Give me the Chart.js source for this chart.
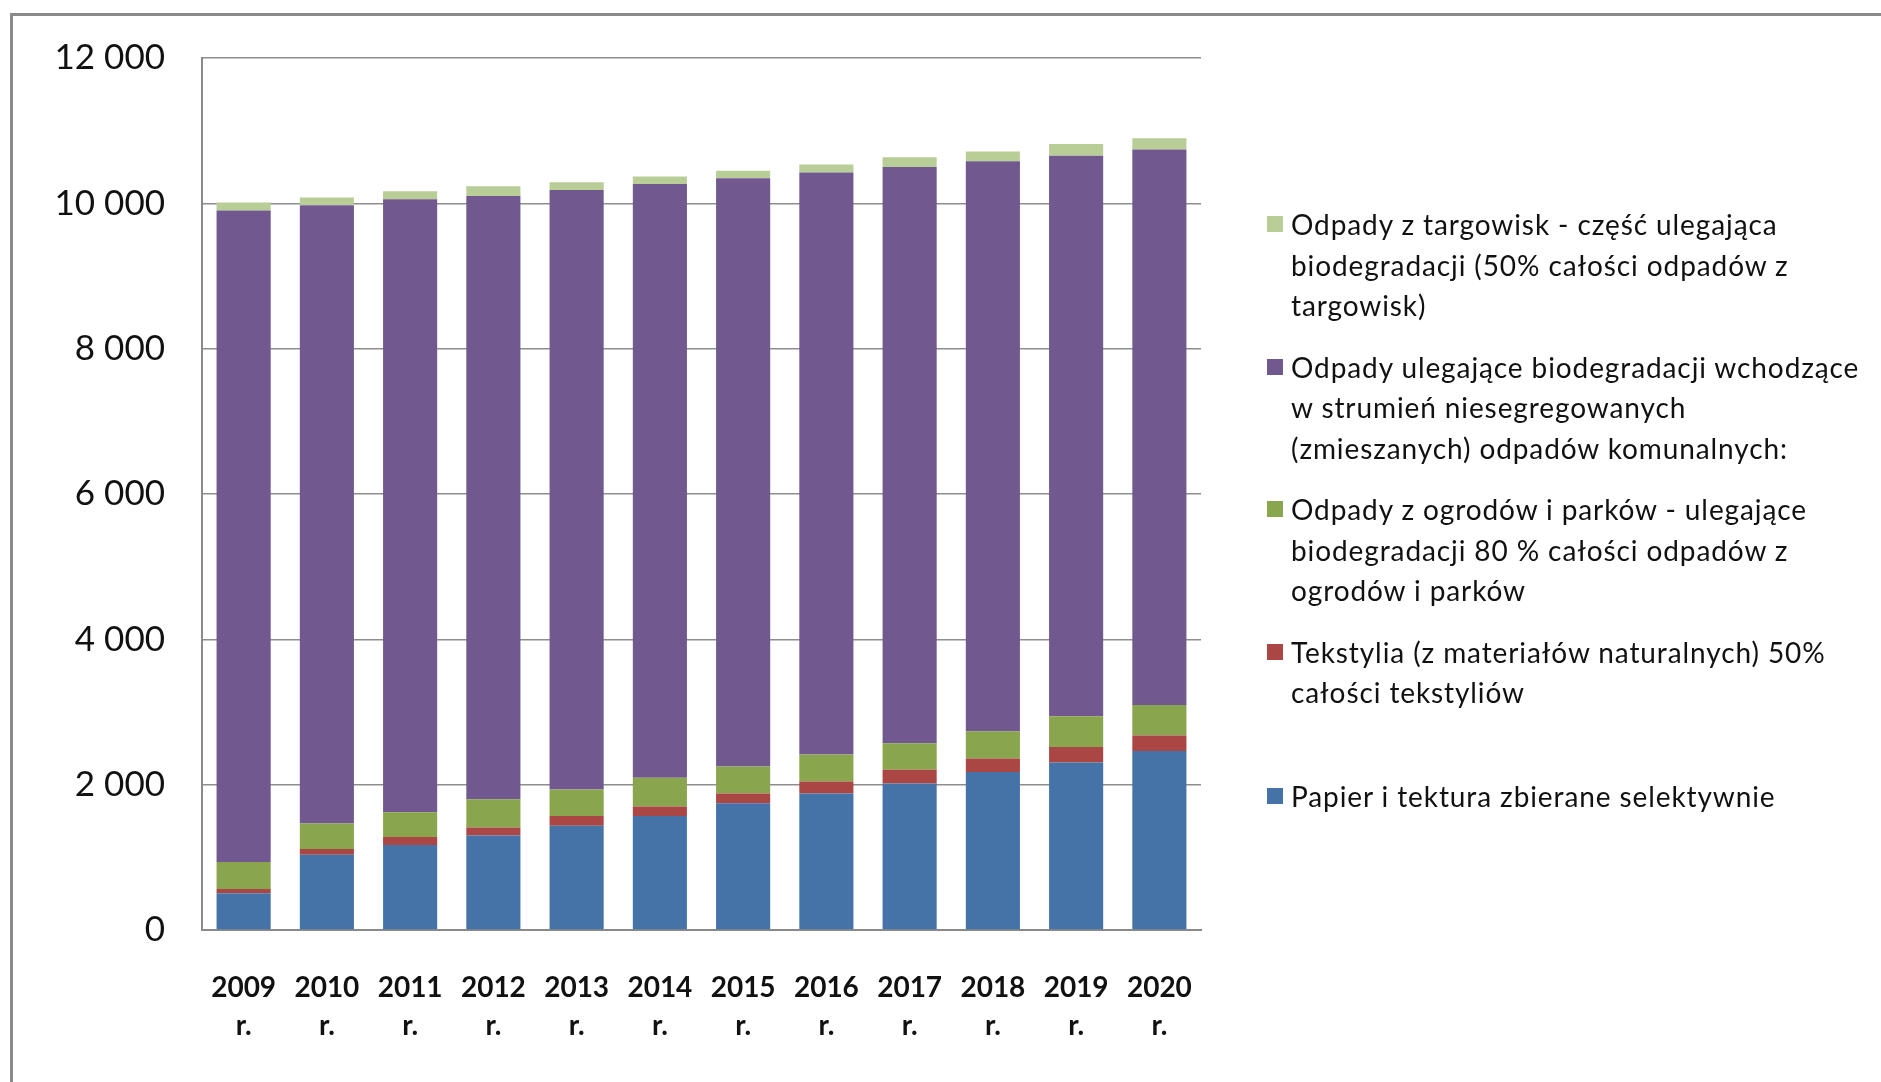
<!DOCTYPE html>
<html lang="pl">
<head>
<meta charset="utf-8">
<script src="https://cdn.jsdelivr.net/npm/chart.js@4.4.1/dist/chart.umd.min.js"></script>
<style>
  html, body { margin: 0; padding: 0; background: #fff; overflow: hidden; }
  #wrap { position: relative; width: 1881px; height: 1082px; }
  #frame { position: absolute; left: 10px; top: 13px; width: 1900px; height: 1100px;
           border: 3px solid #8a8a8a; box-sizing: border-box; }
  #chart { position: absolute; left: 0; top: 0; }
  #legend { position: absolute; left: 1267px; top: 204px; font-family: Lato, sans-serif;
            font-size: 28px; letter-spacing: 0.9px; line-height: 40.5px; color: #111; }
  .item { position: relative; padding-left: 24px; margin-bottom: 21px; white-space: nowrap; }
  .item.last { margin-top: 63px; }
  .sw { position: absolute; left: 0; top: 12px; width: 16px; height: 16px; }
</style>
</head>
<body>
<div id="wrap">
  <div id="frame"></div>
  <canvas id="chart" width="1881" height="1082"></canvas>
  <div id="legend"></div>
</div>
<script>
  // lata
  const years = ['2009', '2010', '2011', '2012', '2013', '2014', '2015', '2016', '2017', '2018', '2019', '2020'];

  // wartości (od dołu stosu do góry)
  const papier = [505, 1035, 1170, 1300, 1435, 1570, 1745, 1880, 2015, 2175, 2305, 2465];
  const tekstylia = [60, 80, 110, 110, 135, 130, 135, 165, 190, 185, 215, 210];
  const ogrody = [370, 350, 340, 390, 365, 395, 370, 370, 365, 375, 420, 420];
  const zmieszane = [8965, 8510, 8435, 8300, 8250, 8170, 8095, 8010, 7930, 7845, 7715, 7645];
  const targowiska = [110, 105, 110, 135, 105, 105, 105, 110, 135, 135, 160, 155];

  const yTicks = [0, 2000, 4000, 6000, 8000, 10000, 12000];

  const seriesNames = [
    ['Papier i tektura zbierane selektywnie'],
    ['Tekstylia (z materiałów naturalnych) 50%', 'całości tekstyliów'],
    ['Odpady z ogrodów i parków - ulegające', 'biodegradacji 80 % całości odpadów z', 'ogrodów i parków'],
    ['Odpady ulegające biodegradacji wchodzące', 'w strumień niesegregowanych', '(zmieszanych) odpadów komunalnych:'],
    ['Odpady z targowisk - część ulegająca', 'biodegradacji (50% całości odpadów z', 'targowisk)']
  ];
  const seriesColors = ['#4573a7', '#aa4643', '#89a54e', '#71588f', '#b9cd96'];
  const seriesData = [papier, tekstylia, ogrody, zmieszane, targowiska];

  function fmt(v) {
    return String(v).replace(/\B(?=(\d{3})+(?!\d))/g, ' ');
  }

  const ctx = document.getElementById('chart').getContext('2d');
  const chart = new Chart(ctx, {
    type: 'bar',
    data: {
      labels: years.map(y => [y, 'r.']),
      datasets: seriesData.map((d, i) => ({
        label: seriesNames[i].join(' '),
        data: d,
        backgroundColor: seriesColors[i],
        borderWidth: 0,
        categoryPercentage: 1,
        barPercentage: 0.65
      }))
    },
    options: {
      responsive: false,
      animation: false,
      layout: { padding: { left: 0, top: 58, right: 680, bottom: 0 } },
      plugins: { legend: { display: false }, tooltip: { enabled: false } },
      scales: {
        x: {
          stacked: true,
          afterFit: (s) => { s.height = 152; },
          grid: { display: false, drawTicks: false },
          border: { display: true, color: '#8a8a8a', width: 2 },
          ticks: {
            padding: 39,
            color: '#111',
            maxRotation: 0,
            font: { family: 'Lato', size: 28, weight: 'bold', lineHeight: 1.36 }
          }
        },
        y: {
          stacked: true,
          min: 0,
          max: 12000,
          afterFit: (s) => { s.width = 202; },
          afterBuildTicks: (s) => { s.ticks = yTicks.map(v => ({ value: v })); },
          grid: { color: '#8e8e8e', lineWidth: 1.5, drawTicks: false },
          border: { display: true, color: '#8a8a8a', width: 2 },
          ticks: {
            padding: 37,
            color: '#111',
            font: { family: 'Lato', size: 35 },
            callback: (v) => fmt(v)
          }
        }
      }
    }
  });

  // legenda (od góry: ostatnia seria)
  const legend = document.getElementById('legend');
  for (let i = seriesNames.length - 1; i >= 0; i--) {
    const item = document.createElement('div');
    item.className = 'item' + (i === 0 ? ' last' : '');
    const sw = document.createElement('span');
    sw.className = 'sw';
    sw.style.backgroundColor = seriesColors[i];
    item.appendChild(sw);
    seriesNames[i].forEach(line => {
      const l = document.createElement('div');
      l.textContent = line;
      item.appendChild(l);
    });
    legend.appendChild(item);
  }
</script>
</body>
</html>
